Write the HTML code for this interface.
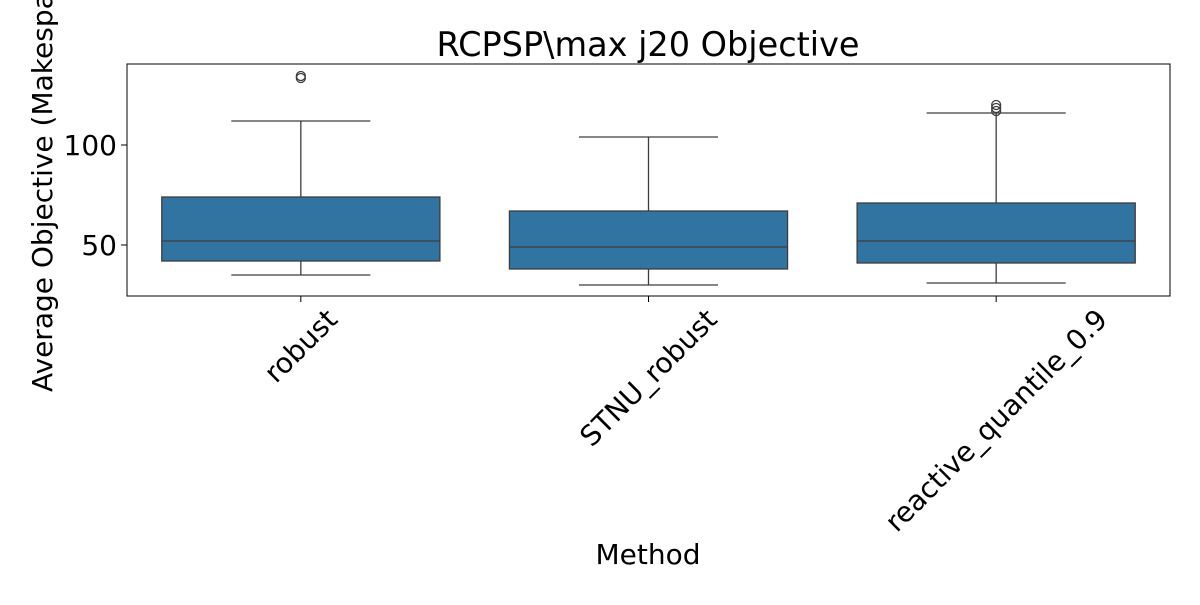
<!DOCTYPE html>
<html><head><meta charset="utf-8">
<style>
html,body{margin:0;padding:0;background:#fff;}
svg text{font-family:"DejaVu Sans","Liberation Sans",sans-serif;fill:#000;}
</style></head>
<body>
<svg id="chart" width="1200" height="600" viewBox="0 0 1200 600">
<rect x="0" y="0" width="1200" height="600" fill="#fff"/>
<text x="648" y="56" font-size="33.5" text-anchor="middle">RCPSP\max j20 Objective</text>
<g id="marks"></g>
<rect x="127" y="64" width="1043" height="232" fill="none" stroke="#000" stroke-width="1"/>
<g id="yticks"></g>
<g id="xticks"></g>
<text transform="translate(52,392) rotate(-90)" font-size="28" text-anchor="start">Average Objective (Makespan)</text>
<text x="648" y="564" font-size="28" text-anchor="middle">Method</text>
</svg>
<script>
const categories = ["robust", "STNU_robust", "reactive_quantile_0.9"];
const whiskerLow = [35, 30, 31];
const q1 = [42, 38, 41];
const medians = [52, 49, 52];
const q3 = [74, 67, 71];
const whiskerHigh = [112, 104, 116];
const outliers = [[133.5, 134.5], [], [117, 118.5, 120]];
const yTicks = [50, 100];

const NS = "http://www.w3.org/2000/svg";
const plotL = 127, plotR = 1170, plotT = 64, plotB = 296;
const yMin = 24.5, yMax = 140.5;
function yScale(v){ return plotB - (v - yMin) / (yMax - yMin) * (plotB - plotT); }
const band = (plotR - plotL) / categories.length;
function xScale(i){ return plotL + band * (i + 0.5); }
function mk(tag, attrs, parent){ const e = document.createElementNS(NS, tag); for (const k in attrs) e.setAttribute(k, attrs[k]); parent.appendChild(e); return e; }

const marks = document.getElementById("marks");
const boxW = band * 0.8, capW = boxW / 2;
const fill = "#3274a1", edge = "#3d3d3d";
categories.forEach((c, i) => {
  const cx = xScale(i);
  const g = mk("g", {}, marks);
  
  
  const w1 = mk("line", {x1:cx, x2:cx, y1:yScale(q1[i]), y2:yScale(whiskerLow[i]), stroke:edge, "stroke-width":1.3}, g);
  
  
  const w2 = mk("line", {x1:cx, x2:cx, y1:yScale(q3[i]), y2:yScale(whiskerHigh[i]), stroke:edge, "stroke-width":1.3}, g);
  
  
  const c1 = mk("line", {x1:cx-capW/2, x2:cx+capW/2, y1:yScale(whiskerLow[i]), y2:yScale(whiskerLow[i]), stroke:edge, "stroke-width":1.3}, g);
  
  
  const c2 = mk("line", {x1:cx-capW/2, x2:cx+capW/2, y1:yScale(whiskerHigh[i]), y2:yScale(whiskerHigh[i]), stroke:edge, "stroke-width":1.3}, g);
  
  
  const r = mk("rect", {x:cx-boxW/2, y:yScale(q3[i]), width:boxW, height:yScale(q1[i])-yScale(q3[i]), fill:fill, stroke:edge, "stroke-width":1.3}, g);
  
  
  const m = mk("line", {x1:cx-boxW/2, x2:cx+boxW/2, y1:yScale(medians[i]), y2:yScale(medians[i]), stroke:edge, "stroke-width":1.3}, g);
  
  
  outliers[i].forEach(v => {
    const o = mk("circle", {cx:cx, cy:yScale(v), r:4.5, fill:"none", stroke:edge, "stroke-width":1.3}, g);
    
    
  });
});

const yt = document.getElementById("yticks");
yTicks.forEach(v => {
  const y = yScale(v);
  const l = mk("line", {x1:plotL-6, x2:plotL, y1:y, y2:y, stroke:"#000", "stroke-width":1}, yt);
  
  
  const t = mk("text", {x:plotL-10, y:y+10, "font-size":28, "text-anchor":"end"}, yt);
  t.textContent = v;
  
  
});

const xt = document.getElementById("xticks");
const labelFont = 28, labelTop = 305;
categories.forEach((c, i) => {
  const x = xScale(i);
  const l = mk("line", {x1:x, x2:x, y1:plotB, y2:plotB+6, stroke:"#000", "stroke-width":1}, xt);
  
  
  const t = mk("text", {x:0, y:0, "font-size":labelFont, "text-anchor":"middle", "dominant-baseline":"central"}, xt);
  t.textContent = c;
  
  
  const w = t.getComputedTextLength();
  const h = (w + labelFont * 0.95) * Math.SQRT1_2;
  t.setAttribute("transform", `translate(${x},${labelTop + h / 2}) rotate(-45)`);
});
</script>
</body></html>
